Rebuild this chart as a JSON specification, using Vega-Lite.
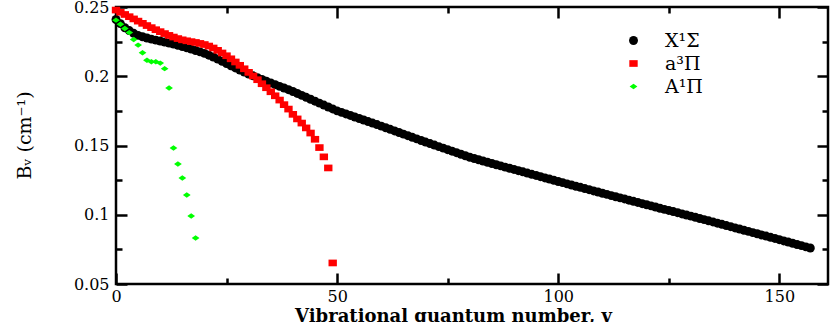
{
  "$schema": "https://vega.github.io/schema/vega-lite/v6.json",
  "width": 712,
  "height": 277,
  "autosize": "none",
  "padding": {"left": 116, "top": 7, "right": 2, "bottom": 38},
  "background": "white",
  "config": {
    "view": {"stroke": "black", "strokeWidth": 2.5},
    "axis": {
      "domain": false,
      "tickColor": "black", "tickWidth": 2.5,
      "grid": false,
      "labelFont": "DejaVu Serif", "labelFontSize": 16, "labelColor": "black",
      "titleFont": "DejaVu Serif", "titleColor": "black",
      "labelOverlap": false, "labelFlush": false
    }
  },
  "datasets": {
    "pts": [
      {"v":0,"B":0.241,"s":"X¹Σ"},{"v":1,"B":0.238,"s":"X¹Σ"},{"v":2,"B":0.235,"s":"X¹Σ"},{"v":3,"B":0.233,"s":"X¹Σ"},{"v":4,"B":0.231,"s":"X¹Σ"},
      {"v":5,"B":0.2295,"s":"X¹Σ"},{"v":6,"B":0.2285,"s":"X¹Σ"},{"v":7,"B":0.2276,"s":"X¹Σ"},{"v":8,"B":0.2268,"s":"X¹Σ"},{"v":9,"B":0.2261,"s":"X¹Σ"},
      {"v":10,"B":0.2254,"s":"X¹Σ"},{"v":11,"B":0.2247,"s":"X¹Σ"},{"v":12,"B":0.224,"s":"X¹Σ"},{"v":13,"B":0.2232,"s":"X¹Σ"},{"v":14,"B":0.2224,"s":"X¹Σ"},
      {"v":15,"B":0.2215,"s":"X¹Σ"},{"v":16,"B":0.2206,"s":"X¹Σ"},{"v":17,"B":0.2196,"s":"X¹Σ"},{"v":18,"B":0.2186,"s":"X¹Σ"},{"v":19,"B":0.2176,"s":"X¹Σ"},
      {"v":20,"B":0.2165,"s":"X¹Σ"},{"v":21,"B":0.2152,"s":"X¹Σ"},{"v":22,"B":0.2139,"s":"X¹Σ"},{"v":23,"B":0.2124,"s":"X¹Σ"},{"v":24,"B":0.2108,"s":"X¹Σ"},
      {"v":25,"B":0.2092,"s":"X¹Σ"},{"v":26,"B":0.2076,"s":"X¹Σ"},{"v":27,"B":0.206,"s":"X¹Σ"},{"v":28,"B":0.2045,"s":"X¹Σ"},{"v":29,"B":0.203,"s":"X¹Σ"},
      {"v":30,"B":0.2016,"s":"X¹Σ"},{"v":31,"B":0.2003,"s":"X¹Σ"},{"v":32,"B":0.199,"s":"X¹Σ"},{"v":33,"B":0.1977,"s":"X¹Σ"},{"v":34,"B":0.1964,"s":"X¹Σ"},
      {"v":35,"B":0.1951,"s":"X¹Σ"},{"v":36,"B":0.1939,"s":"X¹Σ"},{"v":37,"B":0.1927,"s":"X¹Σ"},{"v":38,"B":0.1915,"s":"X¹Σ"},{"v":39,"B":0.1903,"s":"X¹Σ"},
      {"v":40,"B":0.189,"s":"X¹Σ"},{"v":41,"B":0.1876,"s":"X¹Σ"},{"v":42,"B":0.1862,"s":"X¹Σ"},{"v":43,"B":0.1848,"s":"X¹Σ"},{"v":44,"B":0.1834,"s":"X¹Σ"},
      {"v":45,"B":0.182,"s":"X¹Σ"},{"v":46,"B":0.1806,"s":"X¹Σ"},{"v":47,"B":0.1792,"s":"X¹Σ"},{"v":48,"B":0.1778,"s":"X¹Σ"},{"v":49,"B":0.1764,"s":"X¹Σ"},
      {"v":50,"B":0.175,"s":"X¹Σ"},{"v":51,"B":0.1739,"s":"X¹Σ"},{"v":52,"B":0.1728,"s":"X¹Σ"},{"v":53,"B":0.1717,"s":"X¹Σ"},{"v":54,"B":0.1706,"s":"X¹Σ"},
      {"v":55,"B":0.1695,"s":"X¹Σ"},{"v":56,"B":0.1684,"s":"X¹Σ"},{"v":57,"B":0.1673,"s":"X¹Σ"},{"v":58,"B":0.1662,"s":"X¹Σ"},{"v":59,"B":0.1651,"s":"X¹Σ"},
      {"v":60,"B":0.164,"s":"X¹Σ"},{"v":61,"B":0.1628,"s":"X¹Σ"},{"v":62,"B":0.1617,"s":"X¹Σ"},{"v":63,"B":0.1605,"s":"X¹Σ"},{"v":64,"B":0.1594,"s":"X¹Σ"},
      {"v":65,"B":0.1582,"s":"X¹Σ"},{"v":66,"B":0.1571,"s":"X¹Σ"},{"v":67,"B":0.1559,"s":"X¹Σ"},{"v":68,"B":0.1548,"s":"X¹Σ"},{"v":69,"B":0.1536,"s":"X¹Σ"},
      {"v":70,"B":0.1525,"s":"X¹Σ"},{"v":71,"B":0.1514,"s":"X¹Σ"},{"v":72,"B":0.1503,"s":"X¹Σ"},{"v":73,"B":0.1492,"s":"X¹Σ"},{"v":74,"B":0.1481,"s":"X¹Σ"},
      {"v":75,"B":0.147,"s":"X¹Σ"},{"v":76,"B":0.1459,"s":"X¹Σ"},{"v":77,"B":0.1448,"s":"X¹Σ"},{"v":78,"B":0.1437,"s":"X¹Σ"},{"v":79,"B":0.1426,"s":"X¹Σ"},
      {"v":80,"B":0.1415,"s":"X¹Σ"},{"v":81,"B":0.1406,"s":"X¹Σ"},{"v":82,"B":0.1397,"s":"X¹Σ"},{"v":83,"B":0.1388,"s":"X¹Σ"},{"v":84,"B":0.1379,"s":"X¹Σ"},
      {"v":85,"B":0.137,"s":"X¹Σ"},{"v":86,"B":0.1361,"s":"X¹Σ"},{"v":87,"B":0.1353,"s":"X¹Σ"},{"v":88,"B":0.1344,"s":"X¹Σ"},{"v":89,"B":0.1336,"s":"X¹Σ"},
      {"v":90,"B":0.1327,"s":"X¹Σ"},{"v":91,"B":0.1318,"s":"X¹Σ"},{"v":92,"B":0.131,"s":"X¹Σ"},{"v":93,"B":0.1301,"s":"X¹Σ"},{"v":94,"B":0.1292,"s":"X¹Σ"},
      {"v":95,"B":0.1284,"s":"X¹Σ"},{"v":96,"B":0.1275,"s":"X¹Σ"},{"v":97,"B":0.1266,"s":"X¹Σ"},{"v":98,"B":0.1258,"s":"X¹Σ"},{"v":99,"B":0.1249,"s":"X¹Σ"},
      {"v":100,"B":0.124,"s":"X¹Σ"},{"v":101,"B":0.1232,"s":"X¹Σ"},{"v":102,"B":0.1223,"s":"X¹Σ"},{"v":103,"B":0.1215,"s":"X¹Σ"},{"v":104,"B":0.1206,"s":"X¹Σ"},
      {"v":105,"B":0.1198,"s":"X¹Σ"},{"v":106,"B":0.1189,"s":"X¹Σ"},{"v":107,"B":0.1181,"s":"X¹Σ"},{"v":108,"B":0.1172,"s":"X¹Σ"},{"v":109,"B":0.1164,"s":"X¹Σ"},
      {"v":110,"B":0.1155,"s":"X¹Σ"},{"v":111,"B":0.1147,"s":"X¹Σ"},{"v":112,"B":0.1138,"s":"X¹Σ"},{"v":113,"B":0.113,"s":"X¹Σ"},{"v":114,"B":0.1122,"s":"X¹Σ"},
      {"v":115,"B":0.1114,"s":"X¹Σ"},{"v":116,"B":0.1105,"s":"X¹Σ"},{"v":117,"B":0.1097,"s":"X¹Σ"},{"v":118,"B":0.1089,"s":"X¹Σ"},{"v":119,"B":0.108,"s":"X¹Σ"},
      {"v":120,"B":0.1072,"s":"X¹Σ"},{"v":121,"B":0.1064,"s":"X¹Σ"},{"v":122,"B":0.1056,"s":"X¹Σ"},{"v":123,"B":0.1047,"s":"X¹Σ"},{"v":124,"B":0.1039,"s":"X¹Σ"},
      {"v":125,"B":0.1031,"s":"X¹Σ"},{"v":126,"B":0.1023,"s":"X¹Σ"},{"v":127,"B":0.1015,"s":"X¹Σ"},{"v":128,"B":0.1006,"s":"X¹Σ"},{"v":129,"B":0.0998,"s":"X¹Σ"},
      {"v":130,"B":0.099,"s":"X¹Σ"},{"v":131,"B":0.0982,"s":"X¹Σ"},{"v":132,"B":0.0973,"s":"X¹Σ"},{"v":133,"B":0.0965,"s":"X¹Σ"},{"v":134,"B":0.0956,"s":"X¹Σ"},
      {"v":135,"B":0.0948,"s":"X¹Σ"},{"v":136,"B":0.0939,"s":"X¹Σ"},{"v":137,"B":0.0931,"s":"X¹Σ"},{"v":138,"B":0.0922,"s":"X¹Σ"},{"v":139,"B":0.0914,"s":"X¹Σ"},
      {"v":140,"B":0.0905,"s":"X¹Σ"},{"v":141,"B":0.0897,"s":"X¹Σ"},{"v":142,"B":0.0888,"s":"X¹Σ"},{"v":143,"B":0.088,"s":"X¹Σ"},{"v":144,"B":0.0871,"s":"X¹Σ"},
      {"v":145,"B":0.0863,"s":"X¹Σ"},{"v":146,"B":0.0854,"s":"X¹Σ"},{"v":147,"B":0.0846,"s":"X¹Σ"},{"v":148,"B":0.0837,"s":"X¹Σ"},{"v":149,"B":0.0829,"s":"X¹Σ"},
      {"v":150,"B":0.082,"s":"X¹Σ"},{"v":151,"B":0.0811,"s":"X¹Σ"},{"v":152,"B":0.0803,"s":"X¹Σ"},{"v":153,"B":0.0794,"s":"X¹Σ"},{"v":154,"B":0.0785,"s":"X¹Σ"},
      {"v":155,"B":0.0777,"s":"X¹Σ"},{"v":156,"B":0.0768,"s":"X¹Σ"},{"v":157,"B":0.076,"s":"X¹Σ"},
      {"v":0,"B":0.2478,"s":"a³Π"},{"v":1,"B":0.2462,"s":"a³Π"},{"v":2,"B":0.2446,"s":"a³Π"},{"v":3,"B":0.243,"s":"a³Π"},{"v":4,"B":0.2414,"s":"a³Π"},
      {"v":5,"B":0.2398,"s":"a³Π"},{"v":6,"B":0.2382,"s":"a³Π"},{"v":7,"B":0.2366,"s":"a³Π"},{"v":8,"B":0.2351,"s":"a³Π"},{"v":9,"B":0.2336,"s":"a³Π"},
      {"v":10,"B":0.2322,"s":"a³Π"},{"v":11,"B":0.2308,"s":"a³Π"},{"v":12,"B":0.2295,"s":"a³Π"},{"v":13,"B":0.2283,"s":"a³Π"},{"v":14,"B":0.2272,"s":"a³Π"},
      {"v":15,"B":0.2263,"s":"a³Π"},{"v":16,"B":0.2256,"s":"a³Π"},{"v":17,"B":0.225,"s":"a³Π"},{"v":18,"B":0.2244,"s":"a³Π"},{"v":19,"B":0.2237,"s":"a³Π"},
      {"v":20,"B":0.2229,"s":"a³Π"},{"v":21,"B":0.2218,"s":"a³Π"},{"v":22,"B":0.2204,"s":"a³Π"},{"v":23,"B":0.2187,"s":"a³Π"},{"v":24,"B":0.2168,"s":"a³Π"},
      {"v":25,"B":0.2148,"s":"a³Π"},{"v":26,"B":0.2126,"s":"a³Π"},{"v":27,"B":0.2103,"s":"a³Π"},{"v":28,"B":0.2079,"s":"a³Π"},{"v":29,"B":0.2054,"s":"a³Π"},
      {"v":30,"B":0.2028,"s":"a³Π"},{"v":31,"B":0.2002,"s":"a³Π"},{"v":32,"B":0.1975,"s":"a³Π"},{"v":33,"B":0.1946,"s":"a³Π"},{"v":34,"B":0.1917,"s":"a³Π"},
      {"v":35,"B":0.1888,"s":"a³Π"},{"v":36,"B":0.1859,"s":"a³Π"},{"v":37,"B":0.1828,"s":"a³Π"},{"v":38,"B":0.1795,"s":"a³Π"},{"v":39,"B":0.1763,"s":"a³Π"},
      {"v":40,"B":0.1725,"s":"a³Π"},{"v":41,"B":0.1692,"s":"a³Π"},{"v":42,"B":0.1662,"s":"a³Π"},{"v":43,"B":0.1627,"s":"a³Π"},{"v":44,"B":0.159,"s":"a³Π"},
      {"v":45,"B":0.1545,"s":"a³Π"},{"v":46,"B":0.1485,"s":"a³Π"},{"v":47,"B":0.1418,"s":"a³Π"},{"v":48,"B":0.1338,"s":"a³Π"},{"v":49,"B":0.0652,"s":"a³Π"},
      {"v":0,"B":0.2405,"s":"A¹Π"},{"v":1,"B":0.2375,"s":"A¹Π"},{"v":2,"B":0.2345,"s":"A¹Π"},{"v":3,"B":0.2315,"s":"A¹Π"},{"v":4,"B":0.2265,"s":"A¹Π"},
      {"v":5,"B":0.2225,"s":"A¹Π"},{"v":6,"B":0.217,"s":"A¹Π"},{"v":7,"B":0.2115,"s":"A¹Π"},{"v":8,"B":0.2105,"s":"A¹Π"},{"v":9,"B":0.2105,"s":"A¹Π"},
      {"v":10,"B":0.2095,"s":"A¹Π"},{"v":11,"B":0.2055,"s":"A¹Π"},{"v":12,"B":0.1915,"s":"A¹Π"},{"v":13,"B":0.1482,"s":"A¹Π"},{"v":14,"B":0.1366,"s":"A¹Π"},
      {"v":15,"B":0.1265,"s":"A¹Π"},{"v":16,"B":0.1143,"s":"A¹Π"},{"v":17,"B":0.0991,"s":"A¹Π"},{"v":18,"B":0.0832,"s":"A¹Π"}
    ]
  },
  "data": {"name": "pts"},
  "layer": [
    {
      "mark": {"type": "point", "filled": true, "opacity": 1, "strokeWidth": 0},
      "encoding": {
        "x": {
          "field": "v", "type": "quantitative",
          "scale": {"domain": [0, 161], "nice": false, "zero": false},
          "axis": {
            "orient": "bottom",
            "values": [0, 50, 100, 150],
            "offset": -11, "tickSize": 11,
            "labelPadding": 4,
            "title": "Vibrational quantum number, v",
            "titleFontSize": 18, "titleFontWeight": "bold",
            "titleX": 337, "titleY": 48, "titleBaseline": "alphabetic", "titleAlign": "center"
          }
        },
        "y": {
          "field": "B", "type": "quantitative",
          "scale": {"domain": [0.05, 0.25], "nice": false, "zero": false},
          "axis": {
            "orient": "left",
            "values": [0.05, 0.1, 0.15, 0.2, 0.25],
            "format": ".2~f",
            "offset": -11, "tickSize": 11,
            "labelPadding": 7,
            "title": "Bᵥ (cm⁻¹)",
            "titleFontSize": 19, "titleFontWeight": "normal",
            "titleX": -93, "titleY": 128, "titleAlign": "center", "titleAngle": -90
          }
        },
        "color": {
          "field": "s", "type": "nominal",
          "scale": {"domain": ["X¹Σ", "a³Π", "A¹Π"], "range": ["#000000", "#ff0000", "#00ff00"]},
          "legend": {
            "orient": "none", "legendX": 508, "legendY": 24, "title": null,
            "labelFont": "DejaVu Serif", "labelFontSize": 19, "labelColor": "black",
            "labelOffset": 22, "rowPadding": 3, "padding": 0, "symbolStrokeWidth": 0
          }
        },
        "shape": {
          "field": "s", "type": "nominal",
          "scale": {"domain": ["X¹Σ", "a³Π", "A¹Π"], "range": ["circle", "M-1,-0.8H1V0.8H-1Z", "M-1,0L0,-0.7L1,0L0,0.7Z"]},
          "legend": null
        },
        "size": {
          "field": "s", "type": "nominal",
          "scale": {"domain": ["X¹Σ", "a³Π", "A¹Π"], "range": [80, 60, 120]},
          "legend": null
        }
      }
    },
    {
      "mark": {"type": "point", "opacity": 0},
      "encoding": {
        "x": {"field": "v", "type": "quantitative",
          "axis": {"orient": "top", "values": [0, 50, 100, 150], "labels": false, "title": null, "offset": -11, "tickSize": 11}},
        "y": {"field": "B", "type": "quantitative",
          "axis": {"orient": "right", "values": [0.05, 0.1, 0.15, 0.2, 0.25], "labels": false, "title": null, "offset": -11, "tickSize": 11}}
      }
    },
    {
      "mark": {"type": "point", "opacity": 0},
      "encoding": {
        "x": {"field": "v", "type": "quantitative",
          "axis": {"orient": "bottom", "values": [25, 75, 125], "labels": false, "title": null, "offset": -6, "tickSize": 6}},
        "y": {"field": "B", "type": "quantitative",
          "axis": {"orient": "left", "values": [0.075, 0.125, 0.175, 0.225], "labels": false, "title": null, "offset": -6, "tickSize": 6}}
      }
    },
    {
      "mark": {"type": "point", "opacity": 0},
      "encoding": {
        "x": {"field": "v", "type": "quantitative",
          "axis": {"orient": "top", "values": [25, 75, 125], "labels": false, "title": null, "offset": -6, "tickSize": 6}},
        "y": {"field": "B", "type": "quantitative",
          "axis": {"orient": "right", "values": [0.075, 0.125, 0.175, 0.225], "labels": false, "title": null, "offset": -6, "tickSize": 6}}
      }
    }
  ],
  "resolve": {"axis": {"x": "independent", "y": "independent"}}
}
